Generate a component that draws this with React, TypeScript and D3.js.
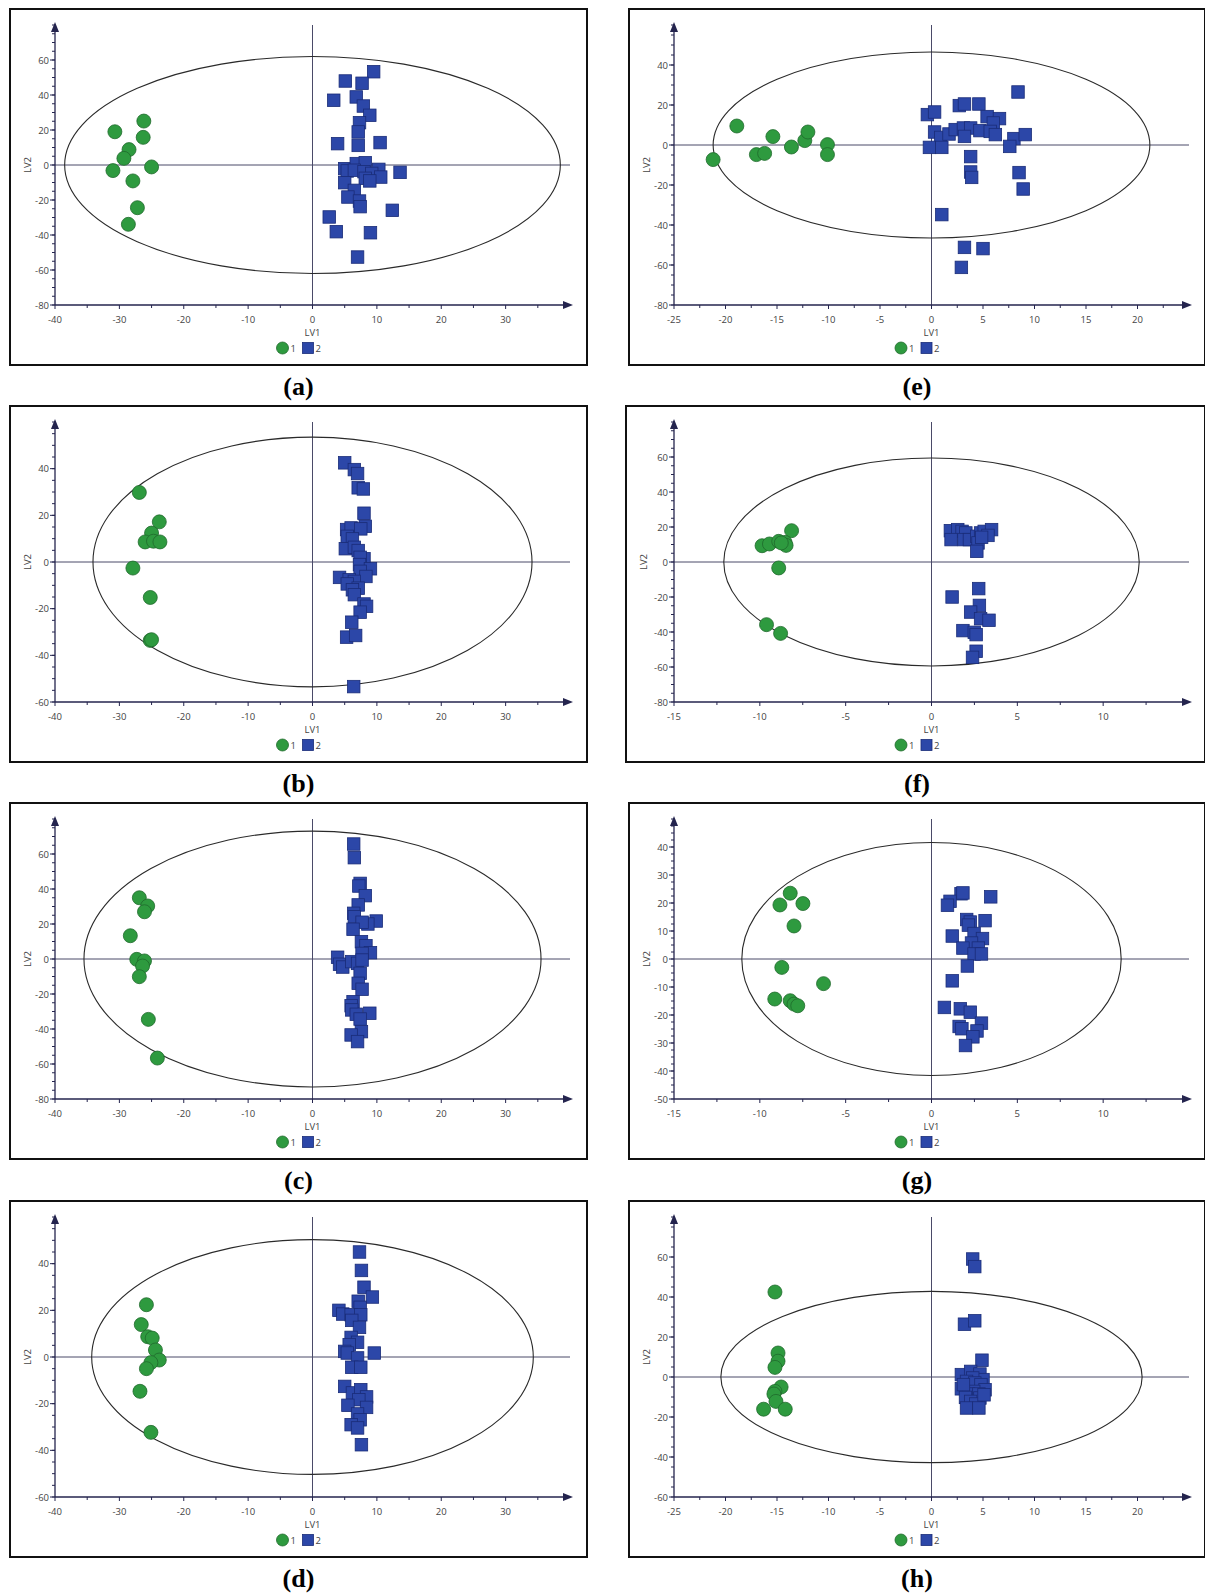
import React from 'react';
import * as d3 from 'd3';

// ---------- data (LV1, LV2) ----------
const aGreen: number[][] = [[-30.7,19.0],[-26.2,25.1],[-26.3,15.8],[-28.5,8.8],[-29.3,3.8],[-25.0,-1.1],[-31.0,-3.2],[-27.9,-9.1],[-27.2,-24.4],[-28.6,-33.9]];
const aBlue: number[][] = [[9.5,53.3],[5.1,48.0],[7.7,46.7],[3.3,37.0],[6.8,38.9],[7.9,33.7],[8.9,28.4],[7.3,24.2],[7.1,18.9],[3.9,12.2],[7.1,11.2],[10.5,12.8],[5.0,-2.1],[5.4,-3.4],[6.8,0.8],[8.2,1.3],[6.5,-3.0],[8.0,-3.8],[10.3,-2.5],[9.2,-4.8],[10.6,-6.9],[8.2,-7.6],[8.9,-9.1],[13.6,-4.2],[5.0,-10.1],[6.5,-14.5],[5.5,-18.3],[7.3,-20.6],[7.4,-23.8],[12.4,-25.9],[2.6,-29.7],[3.7,-38.1],[9.0,-38.7],[7.0,-52.6]];

const bGreen: number[][] = [[-26.9,29.8],[-23.8,17.2],[-25.0,12.4],[-26.0,8.6],[-24.7,8.9],[-23.7,8.6],[-27.9,-2.6],[-25.2,-15.2],[-25.2,-33.6],[-25.0,-33.3]];
const bBlue: number[][] = [[5.0,42.5],[6.5,39.6],[7.0,37.9],[7.1,31.8],[7.9,31.3],[8.0,20.9],[8.2,15.3],[5.3,13.9],[6.0,14.6],[7.5,14.2],[5.4,11.0],[6.2,9.9],[5.1,5.7],[6.5,6.3],[7.1,4.9],[8.0,1.4],[7.4,2.0],[7.3,-1.1],[9.0,-2.9],[7.4,-4.0],[8.3,-6.2],[4.2,-6.6],[5.7,-7.6],[6.5,-8.3],[5.4,-9.4],[7.1,-11.2],[6.2,-11.9],[6.5,-14.0],[8.0,-18.0],[8.4,-19.0],[7.4,-21.5],[6.1,-25.8],[5.3,-32.2],[6.7,-31.5],[6.4,-53.4]];

const cGreen: number[][] = [[-26.9,35.0],[-25.6,30.3],[-26.1,27.0],[-28.3,13.3],[-27.3,-0.2],[-26.1,-1.1],[-26.4,-4.0],[-26.9,-10.1],[-25.5,-34.5],[-24.1,-56.6]];
const cBlue: number[][] = [[6.4,65.7],[6.5,57.9],[7.4,43.2],[7.2,41.7],[8.2,36.2],[7.1,30.9],[6.4,26.1],[6.5,24.2],[9.9,21.7],[8.6,20.0],[7.7,21.0],[6.3,17.0],[7.6,9.9],[8.3,7.6],[9.0,3.6],[7.7,3.2],[3.9,1.0],[4.2,-3.0],[4.7,-4.6],[6.1,-1.5],[7.0,-2.5],[7.7,-0.6],[7.4,-8.2],[7.1,-13.9],[7.7,-17.3],[6.3,-24.4],[6.0,-26.7],[6.1,-29.1],[6.8,-31.6],[8.9,-31.0],[7.4,-34.3],[7.6,-41.5],[6.0,-43.4],[7.0,-47.2]];

const dGreen: number[][] = [[-25.8,22.4],[-26.6,13.9],[-25.6,8.7],[-24.9,8.1],[-24.4,3.0],[-23.8,-1.3],[-25.1,-2.4],[-25.8,-5.0],[-26.8,-14.7],[-25.1,-32.3]];
const dBlue: number[][] = [[7.3,45.0],[7.6,37.1],[8.0,29.9],[9.3,25.7],[7.1,23.9],[7.4,21.3],[4.1,20.0],[4.7,18.4],[6.0,18.1],[7.5,18.1],[6.1,15.7],[7.3,12.7],[6.0,8.4],[7.0,6.3],[5.7,5.3],[5.0,2.4],[5.4,1.7],[9.6,1.7],[7.0,-0.4],[6.1,-4.4],[7.5,-4.4],[5.0,-12.6],[6.2,-15.4],[7.5,-14.0],[8.4,-17.1],[7.2,-18.3],[8.4,-21.6],[5.5,-20.7],[7.0,-24.4],[7.4,-26.9],[6.0,-29.0],[7.0,-30.4],[7.6,-37.6]];

const eGreen: number[][] = [[-21.2,-7.3],[-18.9,9.5],[-17.0,-4.8],[-16.2,-4.2],[-15.4,4.2],[-13.6,-1.0],[-12.3,2.2],[-12.0,6.5],[-10.1,0.2],[-10.1,-4.8]];
const eBlue: number[][] = [[8.4,26.5],[2.7,19.7],[3.2,20.5],[4.6,20.5],[-0.4,15.2],[0.3,16.5],[5.4,14.2],[6.6,13.2],[6.0,11.0],[0.3,6.5],[0.9,3.8],[1.7,5.5],[2.3,7.7],[3.1,8.5],[3.8,8.5],[3.2,4.3],[4.7,7.2],[5.7,6.8],[6.2,5.2],[8.0,3.2],[9.1,5.2],[7.6,-0.7],[-0.2,-1.2],[1.0,-1.2],[3.8,-5.8],[3.8,-13.5],[3.9,-16.2],[8.5,-13.8],[8.9,-22.0],[1.0,-34.8],[3.2,-51.2],[5.0,-51.8],[2.9,-61.2]];

const fGreen: number[][] = [[-8.15,17.9],[-9.87,9.3],[-9.44,10.3],[-8.9,11.8],[-8.53,11.2],[-8.47,9.5],[-8.75,10.9],[-8.9,-3.4],[-9.61,-35.8],[-8.79,-40.8]];
const fBlue: number[][] = [[1.1,17.9],[1.53,18.5],[1.78,17.5],[2.0,16.6],[1.14,12.8],[1.89,12.8],[2.21,12.8],[2.64,14.7],[2.86,16.6],[3.07,17.5],[3.5,18.5],[3.29,15.2],[2.71,10.9],[2.64,6.1],[2.92,14.1],[2.75,-15.2],[1.2,-20.0],[2.79,-24.8],[2.28,-28.6],[2.86,-32.4],[3.35,-33.3],[1.83,-39.2],[2.49,-40.2],[2.6,-41.5],[2.6,-51.0],[2.39,-54.5]];

const gGreen: number[][] = [[-8.23,23.5],[-8.83,19.3],[-7.49,19.8],[-8.01,11.8],[-8.72,-3.0],[-6.29,-8.8],[-9.13,-14.3],[-8.23,-14.9],[-8.01,-16.1],[-7.79,-16.7]];
const gBlue: number[][] = [[1.72,23.3],[1.83,23.6],[3.45,22.2],[1.08,20.6],[0.93,19.2],[2.05,14.1],[2.26,13.2],[3.12,13.7],[2.15,12.1],[1.21,8.2],[2.48,9.1],[2.97,7.3],[2.33,5.7],[2.73,3.9],[1.83,3.9],[2.48,1.8],[2.91,1.8],[2.09,-2.5],[1.21,-7.8],[0.75,-17.3],[1.68,-17.8],[2.26,-19.0],[2.91,-22.9],[1.61,-24.1],[1.77,-24.9],[2.65,-25.7],[2.41,-27.8],[1.98,-30.9]];

const hGreen: number[][] = [[-15.2,42.5],[-14.9,12.0],[-14.9,7.9],[-15.2,4.8],[-14.6,-5.0],[-15.2,-7.2],[-15.3,-8.5],[-15.1,-12.2],[-16.3,-16.1],[-14.2,-16.1]];
const hBlue: number[][] = [[4.0,59.0],[4.2,55.2],[3.2,26.4],[4.2,28.1],[4.9,8.4],[2.9,1.2],[3.8,2.8],[4.7,1.5],[5.0,-1.3],[4.0,-0.5],[3.4,-2.2],[4.2,-3.0],[4.8,-3.8],[2.9,-5.9],[5.2,-6.4],[4.1,-7.2],[3.6,-8.5],[4.6,-8.5],[3.3,-10.2],[4.7,-10.5],[3.8,-12.2],[4.3,-13.5],[3.4,-15.5],[4.6,-15.5],[5.1,-8.9],[3.1,-3.8]];

// panel axis domains and ellipse semi-axes
const panelKeys = ['a', 'b', 'c', 'd', 'e', 'f', 'g', 'h'];
const xMaxes = [40, 40, 40, 40, 25, 15, 15, 25];
const xSteps = [10, 10, 10, 10, 5, 5, 5, 5];
const yMins = [-80, -60, -80, -60, -80, -80, -50, -60];
const yMaxes = [80, 60, 80, 60, 60, 80, 50, 80];
const ySteps = [20, 20, 20, 20, 20, 20, 10, 20];
const ellipseRx = [38.5, 34.1, 35.5, 34.3, 21.2, 12.1, 11.05, 20.45];
const ellipseRy = [62, 53.5, 73.1, 50.3, 46.5, 59.4, 41.6, 42.8];
const greens = [aGreen, bGreen, cGreen, dGreen, eGreen, fGreen, gGreen, hGreen];
const blues = [aBlue, bBlue, cBlue, dBlue, eBlue, fBlue, gBlue, hBlue];
const legendLabels = ['1', '2'];

const ROW_TOP = [9, 406, 803, 1201];
const FONT = "'Open Sans', 'Noto Sans', sans-serif";
const AXIS = '#24244e';
const GREEN = '#2e9a3f';
const GREEN_S = '#1f6a2c';
const BLUE = '#2c47a8';
const BLUE_S = '#1a2c78';

function fmt(v: number) {
  return String(Math.round(v * 100) / 100);
}

function Panel({ i }: { i: number }) {
  const col = i < 4 ? 0 : 1;
  const row = i % 4;
  const key = panelKeys[i];
  const boxL = col === 0 ? 10 : key === 'f' ? 626 : 629;
  const boxR = col === 0 ? 587 : 1205;
  const boxT = ROW_TOP[row];
  const boxB = boxT + 356;
  const axL = col === 0 ? 55 : 674;
  const axR = axL + 515;
  const axB = boxT + 296;
  const axT = boxT + 16;
  const xMax = xMaxes[i];
  const x = d3.scaleLinear().domain([-xMax, xMax]).range([axL, axR]);
  const y = d3.scaleLinear().domain([yMins[i], yMaxes[i]]).range([axB, axT]);
  const xs = xSteps[i];
  const ys = ySteps[i];
  const xMajor = d3.range(-xMax, xMax - xs / 2, xs);
  const xMinor = d3.range(-xMax + xs / 2, xMax, xs);
  const yMajor = d3.range(yMins[i], yMaxes[i] - ys / 2, ys);
  const yMinor = d3.range(yMins[i], yMaxes[i] + 0.001, ys / 4);
  const cx = x(0);
  const cy = y(0);
  const boxCx = col === 0 ? 298.5 : 917;
  const axCx = (axL + axR) / 2;
  const legY = axB + 43;
  const sq = 12.5;

  return (
    <g>
      <rect x={boxL} y={boxT} width={boxR - boxL} height={boxB - boxT} fill="white" stroke="#111" strokeWidth={2} />
      <line x1={cx} x2={cx} y1={axT} y2={axB} stroke="#4a4a68" strokeWidth={1} />
      <line x1={axL} x2={axR} y1={cy} y2={cy} stroke="#4a4a68" strokeWidth={1} />
      <ellipse cx={cx} cy={cy} rx={x(ellipseRx[i]) - cx} ry={cy - y(ellipseRy[i])} fill="none" stroke="#2a2a2a" strokeWidth={1.1} />
      <line x1={axL} x2={axR} y1={axB} y2={axB} stroke={AXIS} strokeWidth={1.3} />
      <line x1={axL} x2={axL} y1={axB} y2={axT} stroke={AXIS} strokeWidth={1.3} />
      <path d={`M${axR + 3},${axB} L${axR - 7},${axB - 4} L${axR - 7},${axB + 4} Z`} fill={AXIS} />
      <path d={`M${axL},${axT - 3} L${axL - 4},${axT + 7} L${axL + 4},${axT + 7} Z`} fill={AXIS} />
      {xMinor.map((v, k) => (
        <line key={'xm' + k} x1={x(v)} x2={x(v)} y1={axB} y2={axB + 3} stroke={AXIS} strokeWidth={1} />
      ))}
      {yMinor.map((v, k) => (
        <line key={'ym' + k} x1={axL - 3} x2={axL} y1={y(v)} y2={y(v)} stroke={AXIS} strokeWidth={1} />
      ))}
      {yMajor.map((v, k) => (
        <g key={'yt' + k}>
          <line x1={axL - 5} x2={axL} y1={y(v)} y2={y(v)} stroke={AXIS} strokeWidth={1} />
          <text x={axL - 6} y={y(v) + 3.5} textAnchor="end" fontSize={9.5} fill="#444" fontFamily={FONT}>{fmt(v)}</text>
        </g>
      ))}
      {xMajor.map((v, k) => (
        <g key={'xt' + k}>
          <line x1={x(v)} x2={x(v)} y1={axB} y2={axB + 4} stroke={AXIS} strokeWidth={1} />
          <text x={x(v)} y={axB + 18} textAnchor="middle" fontSize={9.5} fill="#444" fontFamily={FONT}>{fmt(v)}</text>
        </g>
      ))}
      <text x={axCx} y={axB + 31} textAnchor="middle" fontSize={9.5} fill="#444" fontFamily={FONT}>LV1</text>
      <text transform={`translate(${boxL + 21},${boxT + 156}) rotate(-90)`} textAnchor="middle" fontSize={9.5} fill="#444" fontFamily={FONT}>LV2</text>
      {greens[i].map((p, k) => (
        <circle key={'g' + k} cx={x(p[0])} cy={y(p[1])} r={7} fill={GREEN} stroke={GREEN_S} strokeWidth={0.8} />
      ))}
      {blues[i].map((p, k) => (
        <rect key={'b' + k} x={x(p[0]) - sq / 2} y={y(p[1]) - sq / 2} width={sq} height={sq} fill={BLUE} stroke={BLUE_S} strokeWidth={0.8} />
      ))}
      <circle cx={boxCx - 16} cy={legY} r={6} fill={GREEN} stroke={GREEN_S} strokeWidth={0.8} />
      <text x={boxCx - 8} y={legY + 3.5} fontSize={9.5} fill="#444" fontFamily={FONT}>{legendLabels[0]}</text>
      <rect x={boxCx + 4} y={legY - 5.5} width={11} height={11} fill={BLUE} stroke={BLUE_S} strokeWidth={0.8} />
      <text x={boxCx + 17} y={legY + 3.5} fontSize={9.5} fill="#444" fontFamily={FONT}>{legendLabels[1]}</text>
      <text x={boxCx} y={boxB + 30} textAnchor="middle" fontSize={26} fontWeight="bold" fill="#000" fontFamily="'Liberation Serif', 'Times New Roman', serif">({key})</text>
    </g>
  );
}

export default function App() {
  return (
    <svg width={1205} height={1594} style={{ position: 'absolute', left: 0, top: 0, background: 'white' }}>
      <rect x={0} y={0} width={1205} height={1594} fill="white" />
      {panelKeys.map((k, i) => (
        <Panel key={k} i={i} />
      ))}
    </svg>
  );
}
